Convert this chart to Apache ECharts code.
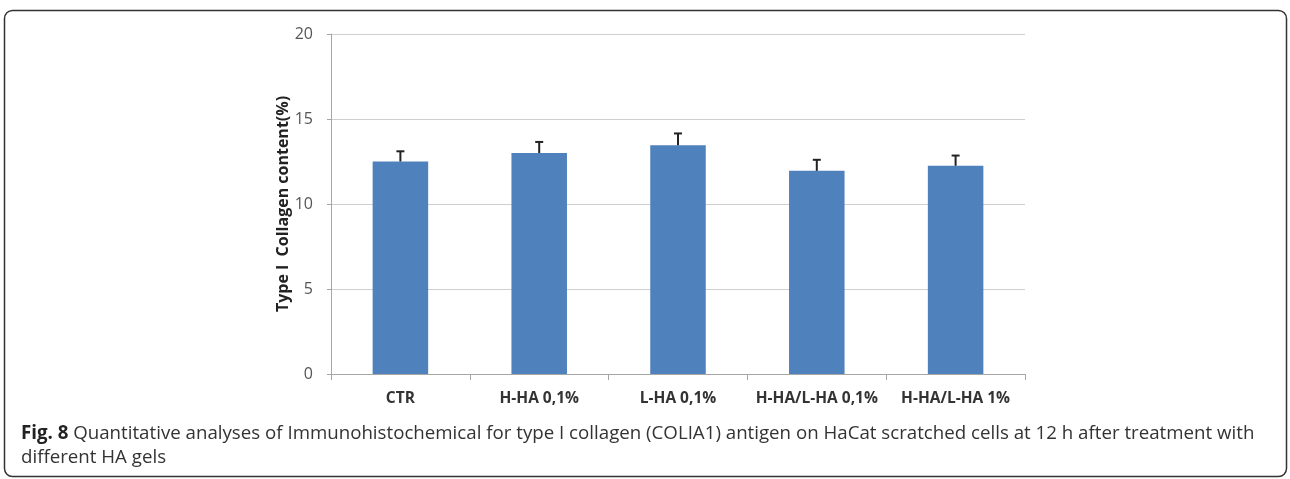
<!DOCTYPE html>
<html>
<head>
<meta charset="utf-8">
<script src="https://cdn.jsdelivr.net/npm/echarts@6/dist/echarts.min.js"></script>
<style>
  html, body { margin: 0; padding: 0; background: #fff; }
  #chart { width: 1290px; height: 479px; }
</style>
</head>
<body>
<div id="chart"></div>
<script>
// 类别、均值与误差
const categories = ['CTR', 'H-HA 0,1%', 'L-HA 0,1%', 'H-HA/L-HA 0,1%', 'H-HA/L-HA 1%'];
const values = [12.5, 13.0, 13.45, 11.95, 12.25];
const errors = [0.6, 0.65, 0.7, 0.65, 0.6];
const yTicks = [0, 5, 10, 15, 20];

let chart = echarts.init(document.getElementById('chart'));

let option = {
    animation: false,
    title: {
        left: 16,
        top: 417,
        text: '{b|Fig. 8} Quantitative analyses of Immunohistochemical for type I collagen (COLIA1) antigen on HaCat scratched cells at 12 h after treatment with\ndifferent HA gels',
        textStyle: {
            fontFamily: 'Open Sans',
            fontSize: 18.7,
            fontWeight: 'normal',
            color: '#333',
            lineHeight: 24,
            rich: {
                b: { fontFamily: 'Open Sans', fontSize: 18.7, fontWeight: 'bold', color: '#222', lineHeight: 24 }
            }
        }
    },
    graphic: [
        {
            type: 'rect',
            shape: { x: 4.5, y: 10.5, width: 1282, height: 466, r: 8 },
            style: { fill: 'none', stroke: '#333', lineWidth: 1.5 },
            silent: true
        }
    ],
    grid: { left: 331, right: 265, top: 34, bottom: 105 },
    xAxis: {
        type: 'category',
        data: categories,
        axisLine: { lineStyle: { color: '#a6a6a6' } },
        axisTick: { show: true, length: 6, lineStyle: { color: '#a6a6a6' } },
        axisLabel: {
            interval: 0,
            margin: 17,
            fontFamily: 'Open Sans',
            fontWeight: 'bold',
            fontSize: 15.5,
            color: '#333'
        }
    },
    yAxis: {
        type: 'value',
        min: yTicks[0],
        max: yTicks[yTicks.length - 1],
        interval: 5,
        name: 'Type I  Collagen content(%)',
        nameLocation: 'middle',
        nameGap: 40,
        nameMoveOverlap: false,
        nameRotate: 90,
        nameTextStyle: {
            fontFamily: 'Open Sans',
            fontWeight: 'bold',
            fontSize: 16,
            color: '#222'
        },
        axisLine: { show: true, lineStyle: { color: '#a6a6a6' } },
        axisTick: { show: true, length: 4, lineStyle: { color: '#a6a6a6' } },
        axisLabel: {
            margin: 18,
            fontFamily: 'Open Sans',
            fontSize: 16,
            color: '#555'
        },
        splitLine: { lineStyle: { color: '#cfcfcf', width: 1 } }
    },
    series: [
        {
            name: 'Collagen',
            type: 'bar',
            data: values,
            barWidth: '40%',
            itemStyle: { color: '#4f81bd' }
        },
        {
            name: 'error',
            type: 'custom',
            data: values.map((v, i) => [i, v, v + errors[i]]),
            renderItem: function (params, api) {
                let base = api.coord([api.value(0), api.value(1)]);
                let top = api.coord([api.value(0), api.value(2)]);
                let half = 4;
                let style = { stroke: '#222', lineWidth: 2 };
                return {
                    type: 'group',
                    children: [
                        { type: 'line', shape: { x1: base[0], y1: base[1], x2: top[0], y2: top[1] }, style: style },
                        { type: 'line', shape: { x1: top[0] - half, y1: top[1], x2: top[0] + half, y2: top[1] }, style: style }
                    ]
                };
            },
            z: 3
        }
    ]
};

chart.setOption(option);
</script>
</body>
</html>
